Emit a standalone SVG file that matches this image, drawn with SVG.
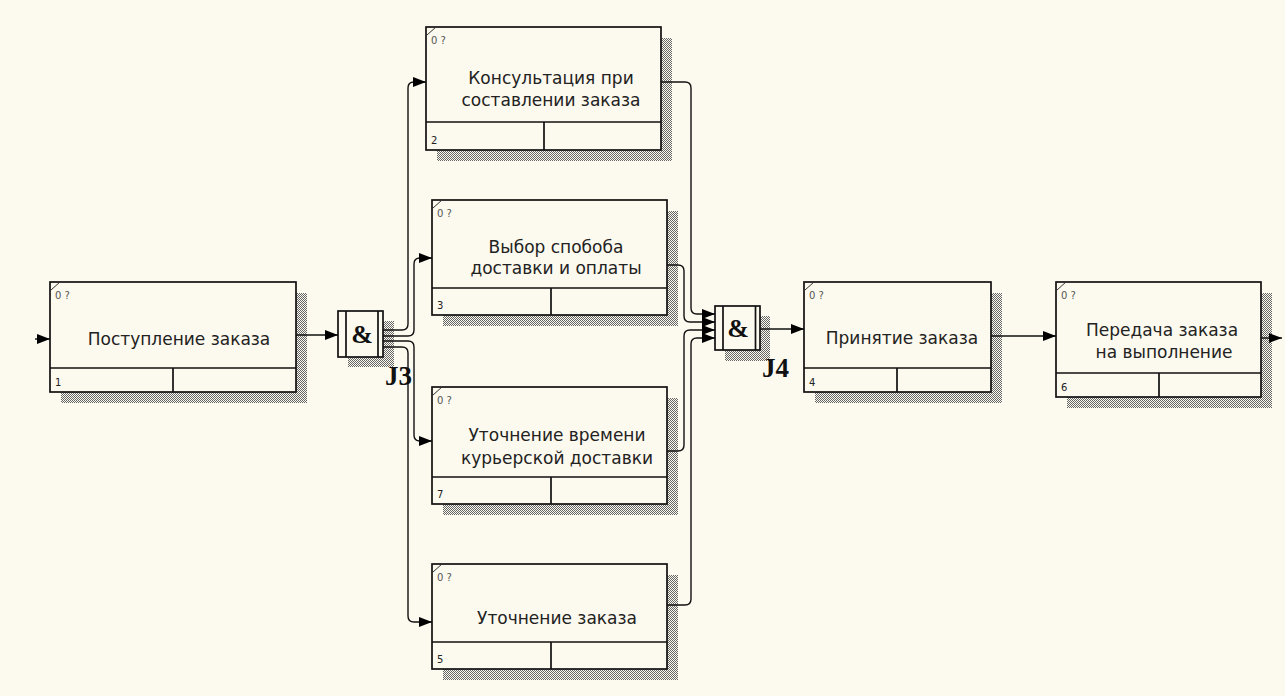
<svg xmlns="http://www.w3.org/2000/svg" width="1285" height="696" viewBox="0 0 1285 696">
<defs>
<pattern id="hatch" patternUnits="userSpaceOnUse" width="2" height="2">
<rect x="0" y="0" width="1" height="1" fill="#666"/>
<rect x="1" y="1" width="1" height="1" fill="#666"/>
</pattern>
<marker id="arr" markerUnits="userSpaceOnUse" markerWidth="13" markerHeight="10" refX="13" refY="5" orient="auto">
<path d="M0,0 L13,5 L0,10 z" fill="#000"/>
</marker>
<style>
.shadow{fill:url(#hatch);}
.box{fill:#fcf9ee;stroke:#111;stroke-width:1.7;}
.div{stroke:#111;stroke-width:1.7;fill:none;}
.tick{stroke:#333;stroke-width:1;}
.lbl{font-family:"DejaVu Sans",sans-serif;font-size:17px;fill:#222;text-anchor:middle;}
.ref{font-family:"DejaVu Sans",sans-serif;font-size:10px;fill:#555;}
.num{font-family:"DejaVu Sans",sans-serif;font-size:10px;fill:#222;}
.amp{font-family:"Liberation Serif",serif;font-size:26px;font-weight:bold;fill:#111;text-anchor:middle;}
.jl{font-family:"Liberation Serif",serif;font-size:27px;font-weight:bold;fill:#111;}
.conn{fill:none;stroke:#111;stroke-width:1.4;}
</style>
</defs>
<rect x="0" y="0" width="1285" height="696" fill="#fcf9ee"/>

<g id="box1">
<rect class="shadow" x="61" y="293" width="246" height="110"/>
<rect class="box" x="50" y="282" width="246" height="110"/>
<path class="div" d="M50 368 H296 M173 368 V392"/>
<line class="tick" x1="51" y1="290" x2="60" y2="282"/>
<text class="ref" x="55" y="299">0 ?</text>
<text class="num" x="55" y="386">1</text>
<text class="lbl" x="179" y="345">Поступление заказа</text>
</g>

<g id="box2">
<rect class="shadow" x="437" y="38" width="235" height="123"/>
<rect class="box" x="426" y="27" width="235" height="123"/>
<path class="div" d="M426 122 H661 M544 122 V150"/>
<line class="tick" x1="427" y1="35" x2="436" y2="27"/>
<text class="ref" x="431" y="44">0 ?</text>
<text class="num" x="431" y="144">2</text>
<text class="lbl" x="551" y="84">Консультация при</text>
<text class="lbl" x="551" y="106">составлении заказа</text>
</g>

<g id="box3">
<rect class="shadow" x="443" y="211" width="235" height="115"/>
<rect class="box" x="432" y="200" width="235" height="115"/>
<path class="div" d="M432 288 H667 M551 288 V315"/>
<line class="tick" x1="433" y1="208" x2="442" y2="200"/>
<text class="ref" x="437" y="217">0 ?</text>
<text class="num" x="437" y="309">3</text>
<text class="lbl" x="556" y="253">Выбор спобоба</text>
<text class="lbl" x="556" y="274">доставки и оплаты</text>
</g>

<g id="box7">
<rect class="shadow" x="443" y="398" width="235" height="117"/>
<rect class="box" x="432" y="387" width="235" height="117"/>
<path class="div" d="M432 477 H667 M551 477 V504"/>
<line class="tick" x1="433" y1="395" x2="442" y2="387"/>
<text class="ref" x="437" y="404">0 ?</text>
<text class="num" x="437" y="498">7</text>
<text class="lbl" x="557" y="441">Уточнение времени</text>
<text class="lbl" x="557" y="464">курьерской доставки</text>
</g>

<g id="box5">
<rect class="shadow" x="443" y="575" width="235" height="105"/>
<rect class="box" x="432" y="564" width="235" height="105"/>
<path class="div" d="M432 642 H667 M551 642 V669"/>
<line class="tick" x1="433" y1="572" x2="442" y2="564"/>
<text class="ref" x="437" y="581">0 ?</text>
<text class="num" x="437" y="663">5</text>
<text class="lbl" x="557" y="624">Уточнение заказа</text>
</g>

<g id="box4">
<rect class="shadow" x="815" y="293" width="187" height="110"/>
<rect class="box" x="804" y="282" width="187" height="110"/>
<path class="div" d="M804 368 H991 M897 368 V392"/>
<line class="tick" x1="805" y1="290" x2="814" y2="282"/>
<text class="ref" x="809" y="299">0 ?</text>
<text class="num" x="809" y="386">4</text>
<text class="lbl" x="902" y="344">Принятие заказа</text>
</g>

<g id="box6">
<rect class="shadow" x="1067" y="293" width="205" height="115"/>
<rect class="box" x="1056" y="282" width="205" height="115"/>
<path class="div" d="M1056 373 H1261 M1159 373 V397"/>
<line class="tick" x1="1057" y1="290" x2="1066" y2="282"/>
<text class="ref" x="1061" y="299">0 ?</text>
<text class="num" x="1061" y="391">6</text>
<text class="lbl" x="1162" y="336">Передача заказа</text>
<text class="lbl" x="1164" y="358">на выполнение</text>
</g>

<g id="J3">
<rect class="shadow" x="348" y="321" width="46" height="46"/>
<rect class="box" x="338" y="311" width="45" height="46"/>
<path class="div" d="M346 311 V357 M378 311 V357"/>
<text class="amp" x="362" y="343">&amp;</text>
<text class="jl" x="385" y="385">J3</text>
</g>

<g id="J4">
<rect class="shadow" x="725" y="316" width="45" height="45"/>
<rect class="box" x="715" y="306" width="45" height="44"/>
<path class="div" d="M723 306 V350 M755.5 306 V350"/>
<text class="amp" x="738" y="337">&amp;</text>
<text class="jl" x="762" y="377">J4</text>
</g>

<g id="connectors">
<path class="conn" marker-end="url(#arr)" d="M35 339 L50 339"/>
<path class="conn" marker-end="url(#arr)" d="M296 335 L338 335"/>
<path class="conn" marker-end="url(#arr)" d="M383 330 L402 330 Q408 330 408 324 L408 88 Q408 82 414 82 L426 82"/>
<path class="conn" marker-end="url(#arr)" d="M383 336 L408 336 Q414 336 414 330 L414 264 Q414 258 420 258 L432 258"/>
<path class="conn" marker-end="url(#arr)" d="M383 341 L408 341 Q414 341 414 347 L414 435 Q414 441 420 441 L432 441"/>
<path class="conn" marker-end="url(#arr)" d="M383 347 L402 347 Q408 347 408 353 L408 616 Q408 622 414 622 L432 622"/>
<path class="conn" marker-end="url(#arr)" d="M661 82 L685 82 Q691 82 691 88 L691 308 Q691 314 697 314 L715 314"/>
<path class="conn" marker-end="url(#arr)" d="M667 265 L678 265 Q684 265 684 271 L684 316 Q684 322 690 322 L715 322"/>
<path class="conn" marker-end="url(#arr)" d="M667 451 L678 451 Q684 451 684 445 L684 336 Q684 330 690 330 L715 330"/>
<path class="conn" marker-end="url(#arr)" d="M667 605 L685 605 Q691 605 691 599 L691 344 Q691 338 697 338 L715 338"/>
<path class="conn" marker-end="url(#arr)" d="M760 329 L804 329"/>
<path class="conn" marker-end="url(#arr)" d="M991 336 L1056 336"/>
<path class="conn" marker-end="url(#arr)" d="M1261 338 L1282 338"/>
</g>
</svg>
